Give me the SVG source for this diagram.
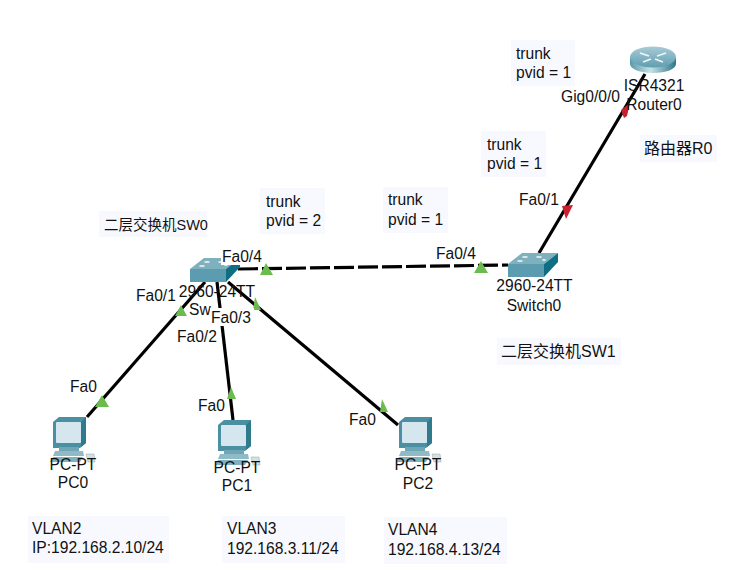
<svg xmlns="http://www.w3.org/2000/svg" width="733" height="581" viewBox="0 0 733 581">
<style>
text{font-family:"Liberation Sans",Arial,"Noto Sans CJK SC",sans-serif;font-size:15.6px;fill:#111}
.c{text-anchor:middle}
.box{fill:#f8f9ff}
.wb{fill:#fff}
.link{stroke:#000;stroke-width:3.2;fill:none}
.dash{stroke-dasharray:20 4}
.g{fill:#6cbb4e}
.r{fill:#c8202e}
</style>
<defs>
<linearGradient id="rg" x1="0" y1="0" x2="0" y2="1"><stop offset="0" stop-color="#a8cbd6"/><stop offset="1" stop-color="#5f9eb0"/></linearGradient>
<linearGradient id="rs" x1="0" y1="0" x2="1" y2="0"><stop offset="0" stop-color="#5a99ab"/><stop offset=".45" stop-color="#c5e0e6"/><stop offset="1" stop-color="#2e7689"/></linearGradient>
<g id="sw">
<polygon points="0,11 14,0 50,0 36,11" fill="#7fb0be"/>
<rect x="0" y="11" width="36" height="13" fill="#5c9cb1"/>
<polygon points="36,11 50,0 50,9 36,24" fill="#0f6e84"/>
<g fill="#dfeef2"><ellipse cx="17" cy="4" rx="3" ry="1"/><ellipse cx="31" cy="4" rx="3" ry="1"/><ellipse cx="12" cy="8" rx="3" ry="1"/><ellipse cx="36" cy="7" rx="2" ry="1"/></g>
</g>
<g id="pc">
<polygon points="9,0 36,0 36,26 30,31 3,31 3,5" fill="#4b8fa3"/>
<rect x="6" y="5" width="25" height="21" rx="1" fill="#d5e6ee"/>
<polygon points="31,5 36,0 36,26 31,30" fill="#2f7a8d"/>
<rect x="9" y="30" width="20" height="4" fill="#6ea6b6"/>
<polygon points="5,34 33,34 34,39 3,39" fill="#8fbac6"/>
<polygon points="3,40 33,40 30,45 0,45" fill="#7fb0bf"/>
<polygon points="36,37 44,37 45,45 38,45" fill="#d6dfe2" stroke="#8aa" stroke-width=".5"/>
</g>
</defs>
<rect width="733" height="581" fill="#fff"/>
<g id="connectors">
<line class="link" x1="645" y1="74" x2="539" y2="253"/>
<line class="link dash" x1="238" y1="269" x2="508" y2="265"/>
<line class="link" x1="205" y1="282" x2="87" y2="417"/>
<line class="link" x1="217" y1="282" x2="233" y2="420"/>
<line class="link" x1="228" y1="282" x2="398" y2="425"/>
<polygon class="r" points="621,110 630,103 627,116 624,118"/>
<polygon class="r" points="562,206 573,205 566,219"/>
<polygon class="g" points="266,263 273,275 260,275"/>
<polygon class="g" points="481,261 488,273 474,273"/>
<polygon class="g" points="181,305 187,316 175,316"/>
<polygon class="g" points="255,297 261,310 253,310"/>
<polygon class="g" points="102,395 109,407 95,407"/>
<polygon class="g" points="231,387 236,399 227,399"/>
<polygon class="g" points="382,399 388,412 380,412"/>
</g>
<g id="labels-bg">
<rect class="box" x="511" y="40" width="64" height="46"/>
<rect class="box" x="481" y="131" width="65" height="46"/>
<rect class="box" x="260" y="188" width="65" height="46"/>
<rect class="box" x="383" y="187" width="65" height="46"/>
<rect class="box" x="99" y="211" width="108" height="26"/>
<rect class="box" x="640" y="135" width="77" height="27"/>
<rect class="box" x="497" y="338" width="124" height="27"/>
<rect class="box" x="28" y="516" width="141" height="47"/>
<rect class="box" x="222" y="516" width="123" height="47"/>
<rect class="box" x="384" y="517" width="123" height="47"/>
</g>
<g id="router0">
<path d="M630 58v6c0 5 10 9 23 9s23-4 23-9v-6z" fill="url(#rs)"/>
<ellipse cx="653" cy="57" rx="23" ry="10.5" fill="url(#rg)"/>
<path d="M640 53l9 3M666 53l-9 3M643 62l8-3M663 62l-8-3" stroke="#eef6f8" stroke-width="1.8" fill="none"/>
<text class="c" x="654" y="91">ISR4321</text>
<text class="c" x="654" y="110">Router0</text>
</g>
<g id="switch0">
<use href="#sw" x="508" y="253"/>
<text class="c" x="534.500" y="291">2960-24TT</text>
<text class="c" x="534" y="311">Switch0</text>
</g>
<g id="sw0">
<use href="#sw" x="190" y="258"/>
<text class="c" x="217" y="297">2960-24TT</text>
<text x="189" y="315">Sw</text>
</g>
<g id="pc0"><use href="#pc" x="50" y="417"/><text class="c" x="73" y="470">PC-PT</text><text class="c" x="73" y="488">PC0</text></g>
<g id="pc1"><use href="#pc" x="215" y="420"/><text class="c" x="237" y="473">PC-PT</text><text class="c" x="237" y="491">PC1</text></g>
<g id="pc2"><use href="#pc" x="396" y="417"/><text class="c" x="418" y="470">PC-PT</text><text class="c" x="418" y="489">PC2</text></g>
<g id="port-labels">
<rect class="wb" x="221" y="247" width="44" height="18"/>
<rect class="wb" x="210" y="308" width="44" height="18"/>
<rect class="wb" x="176" y="328" width="44" height="18"/>
<rect class="wb" x="135" y="288" width="43" height="18"/>
<text x="222" y="262">Fa0/4</text>
<text x="211" y="323">Fa0/3</text>
<text x="177" y="342">Fa0/2</text>
<text x="136" y="301">Fa0/1</text>
<text x="436" y="259">Fa0/4</text>
<text x="519" y="205">Fa0/1</text>
<text x="561" y="102">Gig0/0/0</text>
<text x="70" y="392">Fa0</text>
<text x="198" y="411">Fa0</text>
<text x="349" y="425">Fa0</text>
</g>
<g id="notes">
<text x="516" y="59">trunk</text><text x="516" y="78">pvid = 1</text>
<text x="487" y="150">trunk</text><text x="487" y="169">pvid = 1</text>
<text x="266" y="207">trunk</text><text x="266" y="226">pvid = 2</text>
<text x="388" y="205">trunk</text><text x="388" y="225">pvid = 1</text>
<text x="104" y="230" style="font-size:14.5px">二层交换机SW0</text>
<text x="644" y="154" style="font-size:16px">路由器R0</text>
<text x="501" y="357" style="font-size:16px">二层交换机SW1</text>
<text x="32" y="534">VLAN2</text><text x="32" y="553">IP:192.168.2.10/24</text>
<text x="227" y="534">VLAN3</text><text x="227" y="554">192.168.3.11/24</text>
<text x="388" y="535">VLAN4</text><text x="388" y="555">192.168.4.13/24</text>
</g>
</svg>
